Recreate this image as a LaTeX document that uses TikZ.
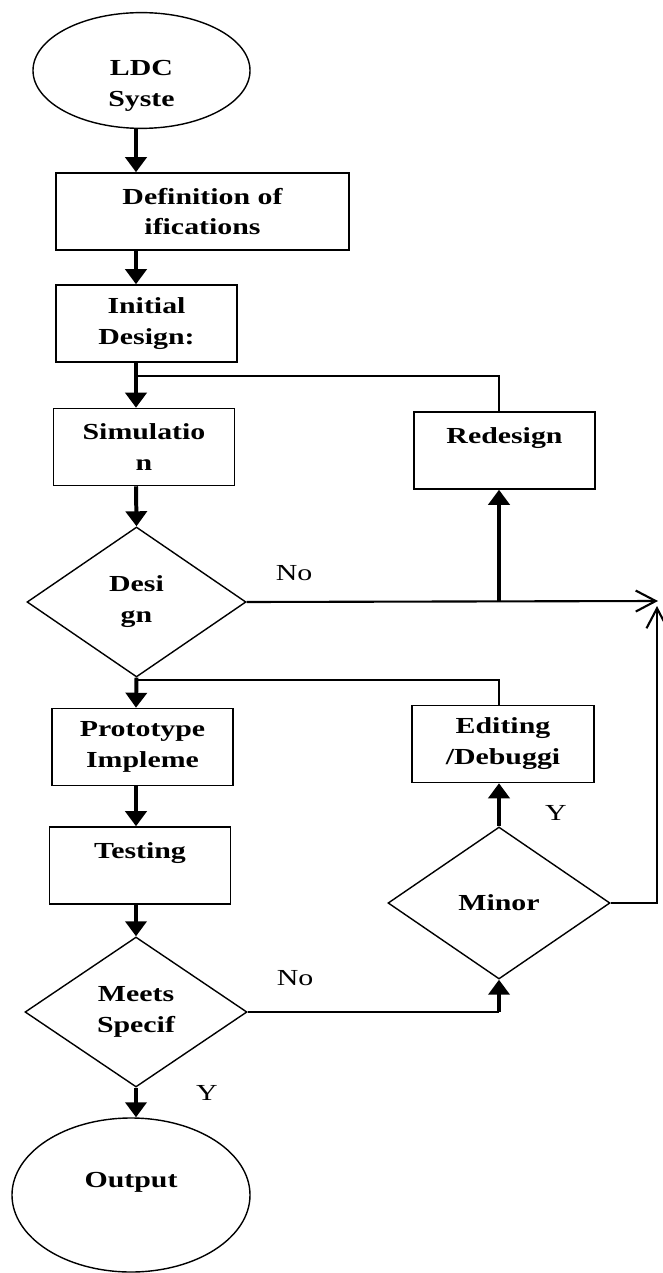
\documentclass[tikz,border=0pt]{standalone}
\usepackage{fontspec}
\setmainfont{Liberation Serif}[FakeStretch=1.3]
\usetikzlibrary{shapes.geometric}
\usetikzlibrary{arrows.meta}
\usetikzlibrary{calc}
\newcommand\chartfont{\fontsize{19.6}{26.4}\selectfont}
\tikzset{box/.style={draw, line width=1.3pt, minimum width=5.43cm, minimum height=2.31cm, inner sep=0pt, align=center, font=\chartfont\bfseries}}
\tikzset{dec/.style={draw, diamond, line width=1.2pt, aspect=1.46, inner sep=0pt, minimum width=6.6cm, minimum height=4.5cm, align=center, font=\chartfont\bfseries}}
\tikzset{term/.style={draw, ellipse, line width=1.2pt, inner sep=0pt, align=center, font=\chartfont\bfseries}}
\tikzset{flow/.style={line width=3.4pt, -{Triangle[width=0.63cm,length=0.45cm]}}}
\tikzset{fb/.style={line width=1.3pt}}
\tikzset{opn/.style={line width=1.8pt, -{Straight Barb[width=0.63cm,length=0.6cm]}}}
\tikzset{lbl/.style={font=\chartfont}}

\begin{document}
\begin{tikzpicture}[x=0.03cm, y=-0.03cm]
\useasboundingbox (0,0) rectangle (662,1273);

\coordinate (spine) at (136, 0);

% main column
\node[term, minimum width=6.51cm, minimum height=3.45cm] (ldc) at (141.5, 70.5) {\phantom{L}\\LDC\\Syste};
\node[box, minimum width=8.79cm] (defn) at (202.5, 211.5) {Definition of\\ifications};
\node[box] (init) at (146.5, 323.5) {Initial\\Design:};
\node[box] (sim) at (144, 447) {Simulatio\\n};
\node[dec, minimum width=6.57cm] (design) at (136.5, 602) {Desi\\gn};
\node[box] (proto) at (142.5, 747) {Prototype\\Impleme};
\node[box] (test) at (140, 865.5) {Testing\\\phantom{T}};
\node[dec, minimum width=6.66cm] (meets) at (136, 1012) {Meets\\Specif};
\node[term, minimum width=7.14cm, minimum height=4.62cm] (output) at (131, 1195) {Output\\\phantom{O}};

% right column
\node[box] (redesign) at (504.5, 450.5) {Redesign\\\phantom{R}};
\node[box, minimum width=5.46cm] (edit) at (503, 744) {Editing\\/Debuggi};
\node[dec, minimum width=6.66cm, minimum height=4.56cm] (minor) at (499, 903) {Minor};

\draw[flow] (ldc.south -| spine) -- (defn.north -| spine);
\draw[flow] (defn.south -| spine) -- (init.north -| spine);
\draw[flow] (init.south -| spine) -- (sim.north -| spine);
\draw[flow] (sim.south -| spine) -- (design.north);
\draw[flow] (design.south) -- (proto.north -| spine);
\draw[flow] (proto.south -| spine) -- (test.north -| spine);
\draw[flow] (test.south -| spine) -- (meets.north);
\draw[flow] (meets.south) -- (output.north -| spine);

% loops back
\coordinate (fbr) at (136, 376);
\coordinate (fbe) at (136, 680);
\draw[fb] (redesign.north -| minor) |- (fbr);
\draw[fb] (edit.north -| minor) |- (fbe);

% design fails
\coordinate (nend) at (658, 601);
\coordinate (rjoin) at (minor |- design.east);
\draw[opn] (design.east) -- (nend);
\draw[flow] (rjoin) -- (redesign.south -| minor);

% minor fault
\coordinate (vend) at (657, 606);
\draw[opn] (minor.east) -| (vend);
\draw[flow] (minor.north) -- (edit.south -| minor);

% spec fails
\coordinate (mjoin) at (minor |- meets.east);
\draw[fb] (meets.east) -- (mjoin);
\draw[flow] (mjoin) -- (minor.south);

\node[lbl] (no1) at (294, 573) {No};
\node[lbl] (no2) at (295, 978) {No};
\node[lbl] (y1) at (556, 813) {Y};
\node[lbl] (y2) at (207, 1093) {Y};

\end{tikzpicture}
\end{document}
